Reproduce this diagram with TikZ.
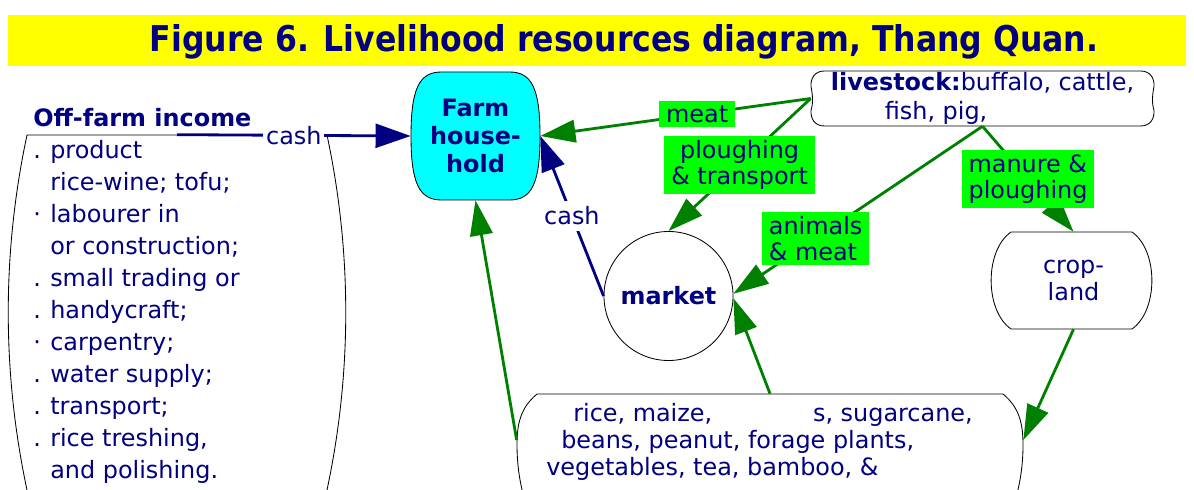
\documentclass[tikz,border=0pt]{standalone}
\usepackage{fontspec}
\setmainfont{DejaVu Sans}
\usepackage{graphicx}
\usetikzlibrary{arrows.meta,backgrounds}

\definecolor{ink}{RGB}{0,0,128}
\definecolor{leaf}{RGB}{0,128,0}
\definecolor{tag}{RGB}{0,255,0}
\definecolor{house}{RGB}{0,255,255}
\definecolor{banner}{RGB}{255,255,0}

\tikzset{
  txt/.style={text=ink, inner sep=0pt, font=\fontsize{17}{19.6}\selectfont},
  place/.style={txt, draw=none, align=center},
  outline/.style={draw=black, line width=0.6pt},
  flow/.style={leaf, line width=2pt, -{Triangle[length=25pt,width=16pt]}},
  money/.style={ink, line width=2pt, -{Triangle[length=25pt,width=17pt]}},
  lbl/.style={txt, fill=tag, inner xsep=5pt, inner ysep=3pt, align=center,
    font=\fontsize{17}{18.6}\selectfont},
  cashlbl/.style={txt, fill=white, inner xsep=2pt, inner ysep=4pt}
}

\begin{document}
\begin{tikzpicture}[x=0.025cm,y=-0.025cm]
\useasboundingbox (0,0) rectangle (1194,490);

% heading
\node[fill=banner, minimum width=29.45cm, minimum height=1.275cm] (banner) at (597,40.5) {};
\node[txt, anchor=base] (title) at (624,52)
  {\resizebox{23.7cm}{0.675cm}{\bfseries Figure 6. Livelihood resources diagram, Thang Quan.}};

% resources
\node[place, minimum width=7.5cm, minimum height=8.875cm] (offfarm) at (177,312.5) {};
\node[txt, anchor=base west, align=left, font=\fontsize{17}{22.7}\selectfont] (offtext) at (33,478)
  {\textbf{Off-farm income}\\
   \makebox[0.425cm][l]{.}product\\
   \hspace*{0.425cm}rice-wine; tofu;\\
   \makebox[0.425cm][l]{\textperiodcentered}labourer in\\
   \hspace*{0.425cm}or construction;\\
   \makebox[0.425cm][l]{.}small trading or\\
   \makebox[0.425cm][l]{.}handycraft;\\
   \makebox[0.425cm][l]{\textperiodcentered}carpentry;\\
   \makebox[0.425cm][l]{.}water supply;\\
   \makebox[0.425cm][l]{.}transport;\\
   \makebox[0.425cm][l]{.}rice treshing,\\
   \hspace*{0.425cm}and polishing.};

\node[place, minimum width=3.225cm, minimum height=3.2cm, font=\bfseries\fontsize{17}{19.6}\selectfont]
  (farm) at (475.5,136) {Farm\\house-\\hold};
\node[txt, circle, draw=black, line width=0.6pt, minimum size=3.225cm, font=\bfseries\fontsize{17}{19.6}\selectfont]
  (market) at (668.5,296) {market};
\node[place, align=left, minimum width=8.575cm, minimum height=1.375cm, font=\fontsize{17}{20.6}\selectfont]
  (livestock) at (982.5,98.5) {\textbf{livestock:}buffalo, cattle,\\\hspace*{1.35cm}fish, pig,};
\node[place, minimum width=4.025cm, minimum height=2.425cm] (crop) at (1073.5,280.5) {crop-\\land};
\node[place, minimum width=12.65cm, minimum height=2.3cm] (crops) at (770,440) {};
\node[txt, anchor=base west, align=left, font=\fontsize{17}{18.9}\selectfont] (cropstext) at (546,475)
  {\hspace*{0.675cm}rice, maize,\hspace{2.52cm}s, sugarcane,\\
   \hspace*{0.375cm}beans, peanut, forage plants,\\
   vegetables, tea, bamboo, \&};

% outlines behind the text
\begin{pgfonlayer}{background}
  \draw[outline, shift={(offfarm.center)}]
    (-150,177.5) .. controls (-175,60) and (-175,-60) .. (-150,-177.5)
    -- (150,-177.5) .. controls (175,-60) and (175,60) .. (150,177.5);
  \draw[outline, fill=house, shift={(farm.center)}]
    (-34,-64) -- (34,-64) .. controls (56,-64) and (64.5,-48) .. (64.5,0)
    .. controls (64.5,48) and (56,64) .. (34,64) -- (-34,64)
    .. controls (-56,64) and (-64.5,48) .. (-64.5,0)
    .. controls (-64.5,-48) and (-56,-64) .. (-34,-64) -- cycle;
  \draw[outline, shift={(livestock.center)}]
    (-158,-27.5) -- (158,-27.5) .. controls (168,-27.5) and (172,-20) .. (171.5,-12)
    .. controls (170,-4) and (169,4) .. (171.5,12)
    .. controls (172,20) and (168,27.5) .. (158,27.5) -- (-158,27.5)
    .. controls (-168,27.5) and (-172,20) .. (-171.5,12)
    .. controls (-169,4) and (-170,-4) .. (-171.5,-12)
    .. controls (-172,-20) and (-168,-27.5) .. (-158,-27.5) -- cycle;
  \draw[outline, shift={(crop.center)}]
    (-62.5,-48.5) -- (58.5,-48.5) .. controls (85,-30) and (85,30) .. (58.5,48.5)
    -- (-62.5,48.5) .. controls (-89,30) and (-89,-30) .. (-62.5,-48.5) -- cycle;
  \draw[outline, shift={(crops.center)}]
    (-245,60) .. controls (-250,45) and (-253,25) .. (-253,5)
    .. controls (-253,-15) and (-250,-32) .. (-233,-46) -- (233,-46)
    .. controls (250,-32) and (253,-15) .. (253,5)
    .. controls (253,25) and (250,45) .. (245,60);
\end{pgfonlayer}

% flows
\draw[money] (offfarm.north) -- node[cashlbl]{cash} (farm.west);
\draw[flow] (livestock.west) -- node[lbl, pos=0.42]{meat} (farm.east);
\draw[flow] (livestock.west) -- node[lbl]{ploughing\\\& transport} (market.north);
\draw[flow] (livestock.south) -- node[lbl, align=left, pos=0.67]{animals\\\& meat} (market.2);
\draw[flow] (livestock.south) -- node[lbl, align=left]{manure \&\\ploughing} (crop.north);
\draw[flow] (crop.south) -- (crops.east);
\draw[flow] (crops.north) -- (market.-2);
\draw[flow] (crops.west) -- (farm.south);
\draw[money] (market.west) -- node[cashlbl]{cash} (farm.east);
\end{tikzpicture}
\end{document}
